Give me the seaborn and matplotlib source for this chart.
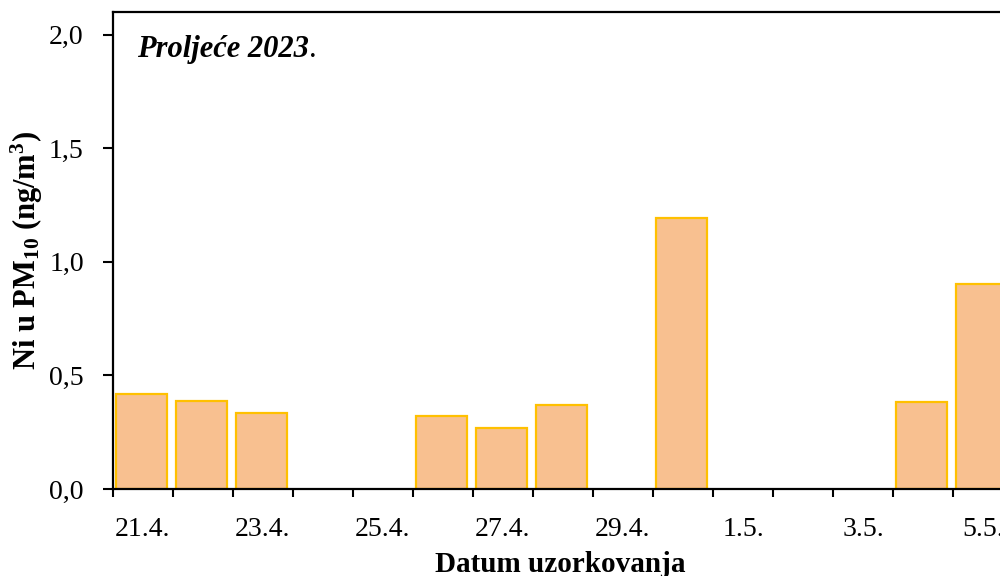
import matplotlib
matplotlib.use("Agg")
import matplotlib.pyplot as plt
import matplotlib.transforms as mtransforms
import numpy as np
import pandas as pd
import seaborn as sns
from matplotlib.ticker import FixedLocator, NullFormatter

dates = ["21.4.", "22.4.", "23.4.", "24.4.", "25.4.", "26.4.", "27.4.", "28.4.",
         "29.4.", "30.4.", "1.5.", "2.5.", "3.5.", "4.5.", "5.5."]
ni_values = [0.417, 0.388, 0.333, np.nan, np.nan, 0.321, 0.268, 0.370,
             np.nan, 1.191, np.nan, np.nan, np.nan, 0.382, 0.902]
shown_labels = ["21.4.", "23.4.", "25.4.", "27.4.", "29.4.", "1.5.", "3.5.", "5.5."]
y_ticks = [0.0, 0.5, 1.0, 1.5, 2.0]
y_tick_labels = ["0,0", "0,5", "1,0", "1,5", "2,0"]

sns.set_style("white")
plt.rcParams['font.family'] = ['Liberation Serif', 'DejaVu Serif']
plt.rcParams['mathtext.fontset'] = 'custom'
plt.rcParams['mathtext.rm'] = 'Liberation Serif'
plt.rcParams['mathtext.bf'] = 'Liberation Serif:bold'
plt.rcParams['mathtext.it'] = 'Liberation Serif:italic'
plt.rcParams['text.color'] = 'black'
plt.rcParams['axes.labelcolor'] = 'black'
plt.rcParams['xtick.color'] = 'black'
plt.rcParams['ytick.color'] = 'black'

df = pd.DataFrame({"date": dates, "ni": ni_values})

fig = plt.figure(figsize=(10, 5.76), dpi=100)
ax = fig.add_axes([0.113, 87 / 576, 1.0 - 0.113, 477 / 576])

sns.barplot(data=df, x="date", y="ni", order=dates, color="#F8C090",
            edgecolor="#FFC000", linewidth=1.6, width=0.85, saturation=1,
            ax=ax, errorbar=None)

# bars sit slightly left of the category centre in the reference
shift = mtransforms.ScaledTranslation(-2 / 100, 0, fig.dpi_scale_trans)
for p in ax.patches:
    p.set_transform(ax.transData + shift)

n_span = (1000 - 113) / 60.0
ax.set_xlim(-0.5, -0.5 + n_span)
ax.set_ylim(0, 2.1)

# y axis
ax.set_yticks(y_ticks)
ax.set_yticklabels(y_tick_labels, fontsize=20)

# x axis: tick marks at category boundaries, labels at every other category
ax.xaxis.set_major_locator(FixedLocator(np.arange(-0.5, len(dates) + 0.5, 1.0)))
ax.xaxis.set_major_formatter(NullFormatter())
label_pos = [dates.index(d) for d in shown_labels]
ax.xaxis.set_minor_locator(FixedLocator(label_pos))
ax.set_xticklabels(shown_labels, minor=True, fontsize=20)
ax.tick_params(axis="x", which="major", direction="out", length=6, width=1.5, color="black", bottom=True)
ax.tick_params(axis="x", which="minor", length=0, pad=20, bottom=True)
ax.tick_params(axis="y", direction="out", length=7, width=1.5, color="black", left=True, pad=14)

for side in ["left", "bottom", "top"]:
    ax.spines[side].set_visible(True)
    ax.spines[side].set_color("black")
    ax.spines[side].set_linewidth(1.6)
ax.spines["right"].set_visible(False)

ax.set_xlabel("")
ax.set_ylabel(r"Ni u PM$_{\mathbf{10}}$ (ng/m$^{\mathbf{3}}$)", fontsize=22,
              fontweight="bold", labelpad=3)
fig.text(560 / 1000, 1 - 572 / 576, "Datum uzorkovanja", fontsize=21,
         fontweight="bold", ha="center", va="baseline")

t = fig.text(137 / 1000, 1 - 57 / 576, "Proljeće 2023", fontsize=22,
             fontweight="bold", fontstyle="italic", va="baseline")
ax.annotate(".", xy=(1, 0), xycoords=t, fontsize=22, va="bottom", ha="left")

fig.savefig("out.png", dpi=100)
